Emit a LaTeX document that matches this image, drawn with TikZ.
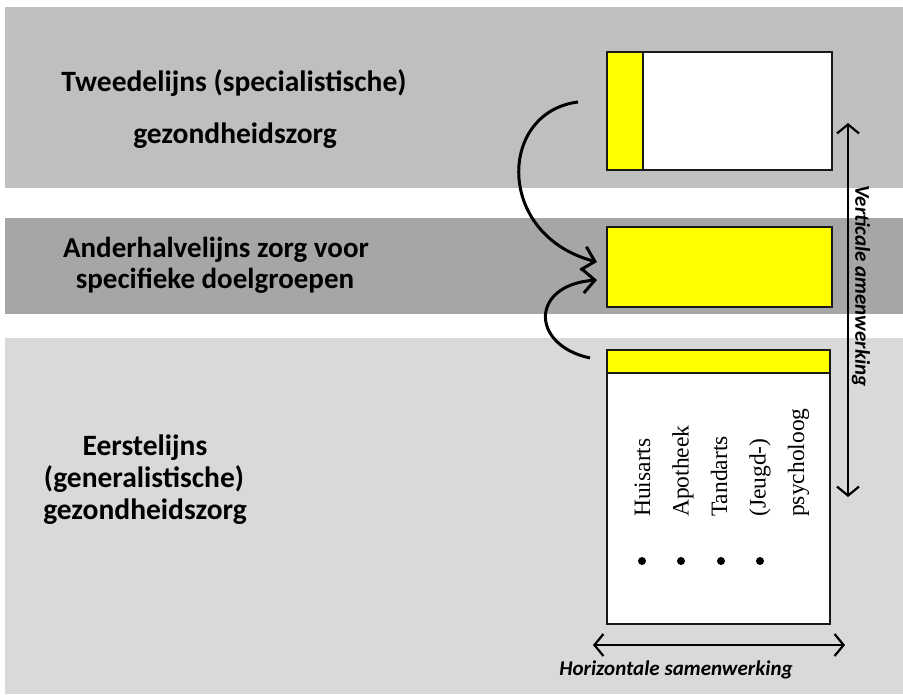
\documentclass[tikz,border=0pt]{standalone}
\usepackage{fontspec}
\setmainfont{Carlito}
\newfontfamily\serifnames{Liberation Serif}
\usetikzlibrary{arrows.meta}
\definecolor{bandtop}{HTML}{BFBFBF}
\definecolor{bandmid}{HTML}{A6A6A6}
\definecolor{bandlow}{HTML}{D9D9D9}
\definecolor{hilite}{HTML}{FFFF00}
\tikzset{
  band/.style={fill=#1, draw=none},
  frame/.style={draw=black!90, line width=1.6pt},
  levellabel/.style={font=\fontsize{29.5}{34}\selectfont\bfseries, anchor=base, inner sep=0pt},
  axislabel/.style={font=\fontsize{21}{25}\selectfont\bfseries\itshape, inner sep=0pt},
  provider/.style={font=\serifnames\fontsize{23.5}{28}\selectfont, rotate=90, anchor=base west, inner sep=0pt},
  flow/.style={line width=3pt, -{Straight Barb[length=12pt, width=24pt, line width=3pt]}},
  span/.style={line width=2.2pt, {Straight Barb[length=9pt, width=22pt]}-{Straight Barb[length=9pt, width=22pt]}},
}
\begin{document}
\begin{tikzpicture}[x=1pt, y=-1pt]
\useasboundingbox (0,0) rectangle (903,694);
\fill[white] (0,0) rectangle (903,694);

% levels of care
\fill[band=bandtop] (5,7) rectangle (903,188);
\fill[band=bandmid] (5,218) rectangle (903,314);
\fill[band=bandlow] (5,338) rectangle (903,694);

% level labels
\node[levellabel] (t1) at (234,91) {Tweedelijns (specialistische)};
\node[levellabel] (t2) at (235,143) {gezondheidszorg};
\node[levellabel, font=\fontsize{29}{34}\selectfont\bfseries] (m1) at (216,257) {Anderhalvelijns zorg voor};
\node[levellabel, font=\fontsize{29}{34}\selectfont\bfseries] (m2) at (215,288) {specifieke doelgroepen};
\node[levellabel] (e1) at (145,455) {Eerstelijns};
\node[levellabel] (e2) at (144,487) {(generalistische)};
\node[levellabel] (e3) at (145,519) {gezondheidszorg};

% second line box
\filldraw[frame, fill=white] (607,52) rectangle (832,170);
\filldraw[frame, fill=hilite] (607,52) rectangle (643,170);
% intermediate box
\filldraw[frame, fill=hilite] (607,227) rectangle (832,307);
% first line box
\filldraw[frame, fill=white] (607,373) rectangle (830,624);
\filldraw[frame, fill=hilite] (607,350) rectangle (830,373);

% first line providers
\node[provider] (p1) at (650,517) {Huisarts};
\node[provider] (p2) at (688.5,517) {Apotheek};
\node[provider] (p3) at (727,517) {Tandarts};
\node[provider] (p4) at (765.5,517) {(Jeugd-)};
\node[provider] (p5) at (804,517) {psycholoog};
\foreach \x in {642,681,721,760}
  \fill (\x,561) circle (4pt);

% referral arrows
\coordinate (fromtop) at (578,102);
\coordinate (intotop) at (597,262);
\coordinate (fromlow) at (590,358);
\coordinate (intolow) at (597,280);
\draw[flow] (fromtop) .. controls (498,112) and (495,235) .. (intotop);
\draw[flow] (fromlow) .. controls (530,345) and (530,285) .. (intolow);

% cooperation axes
\coordinate (vtop) at (848,123);
\coordinate (vbot) at (848,497);
\coordinate (hleft) at (593,645);
\coordinate (hright) at (845,645);
\draw[span] (vtop) -- (vbot);
\draw[span] (hleft) -- (hright);
\node[axislabel, rotate=-90] (vl) at (861,286) {Verticale amenwerking};
\node[axislabel, anchor=base] (hl) at (676,675) {Horizontale samenwerking};
\end{tikzpicture}
\end{document}
